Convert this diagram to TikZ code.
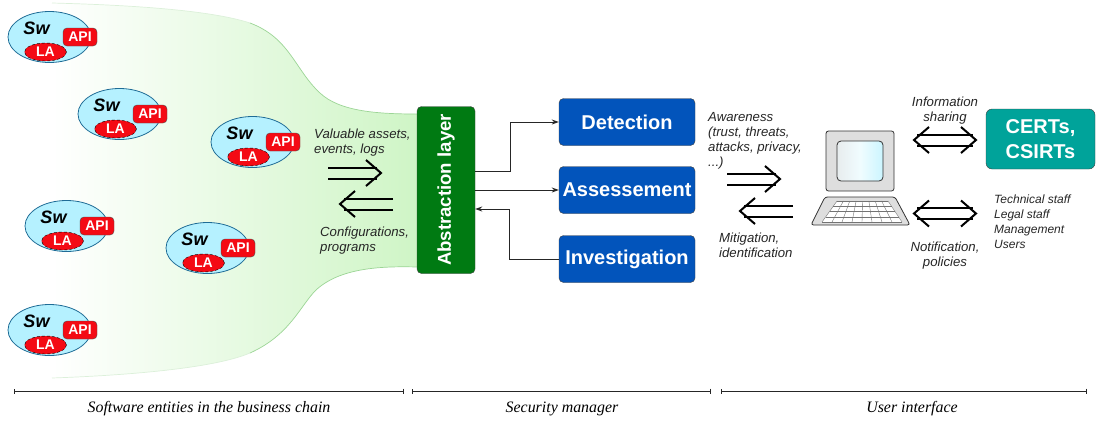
\documentclass[tikz,border=0pt]{standalone}
\usepackage{fontspec}
\setmainfont{Liberation Sans}
\newfontfamily\capfont{Liberation Serif}
\usetikzlibrary{arrows.meta,shapes.geometric,calc}

\definecolor{bodyblue}{HTML}{B5F1FF}
\definecolor{edgeblue}{HTML}{1F6C96}
\definecolor{tagred}{HTML}{F40A14}
\definecolor{boxblue}{HTML}{0254BB}
\definecolor{boxgreen}{HTML}{007A12}
\definecolor{boxteal}{HTML}{00A39A}
\definecolor{bandgreen}{HTML}{CFF5C6}
\definecolor{bandedge}{HTML}{9CD596}

\newcommand{\px}[1]{\fontsize{#1}{#1}\selectfont}

\tikzset{
  swbody/.style={ellipse,draw=edgeblue,fill=bodyblue,line width=.8pt,minimum width=83pt,minimum height=51pt,inner sep=0pt},
  swname/.style={font=\px{18}\bfseries\itshape,inner sep=0pt},
  apitag/.style={rectangle,rounded corners=4pt,draw=black!70,fill=tagred,text=white,font=\px{14}\bfseries,minimum width=34pt,minimum height=18pt,inner sep=0pt},
  latag/.style={ellipse,draw=black,densely dashed,fill=tagred,text=white,font=\px{14}\bfseries,minimum width=42pt,minimum height=18pt,inner sep=0pt},
  mainbox/.style={rectangle,rounded corners=4.5pt,draw=black!75,fill=boxblue,text=white,font=\px{20}\bfseries,minimum width=136pt,minimum height=47pt,inner sep=0pt},
  note/.style={font=\fontsize{13.2}{15}\selectfont\itshape,align=left,inner sep=0pt,text=black!85,anchor=north west},
  link/.style={draw=black!85,line width=.9pt,-{Stealth[length=7pt,width=5pt]}},
  heavy/.style={line width=2pt,black},
  spanline/.style={draw=black!85,line width=.7pt,{|[width=5pt]}-{|[width=5pt]}},
  captext/.style={font=\px{15.9}\capfont\itshape,inner sep=0pt},
  swentity/.pic={
    \node[swbody] (body) at (0,0) {};
    \node[swname] (name) at (-13,-9) {Sw};
    \node[apitag] (api) at (30.5,0) {API};
    \node[latag] (la) at (-4,15) {LA};
  },
  headright/.pic={\draw[heavy] (-15,-13) -- (0,0) -- (-15,13);},
  headleft/.pic={\draw[heavy] (15,-13) -- (0,0) -- (15,13);},
  goright/.pic={
    \draw[heavy] (-53,-5.5) -- (-4,-5.5);
    \draw[heavy] (-53,5.5) -- (-4,5.5);
    \pic at (0,0) {headright};
  },
  goleft/.pic={
    \draw[heavy] (53,-5.5) -- (4,-5.5);
    \draw[heavy] (53,5.5) -- (4,5.5);
    \pic at (0,0) {headleft};
  },
  gotwo/.pic={
    \draw[heavy] (3,-5.5) -- (59,-5.5);
    \draw[heavy] (3,5.5) -- (59,5.5);
    \pic at (0,0) {headleft};
    \pic at (62,0) {headright};
  },
}

\begin{document}
\begin{tikzpicture}[x=1pt,y=-1pt]
    \useasboundingbox (0,0) rectangle (1098,421);

    % green band behind the entities
    \shade[left color=white,middle color=bandgreen!40,right color=bandgreen] (52,3) .. controls (130,5) and (210,10) .. (250,23) .. controls (290,38) and (295,70) .. (320,93) .. controls (340,112) and (380,114) .. (417,114) -- (417,267) .. controls (380,266) and (340,268) .. (316,290) .. controls (300,306) and (290,335) .. (250,353) .. controls (210,370) and (110,376) .. (52,378) -- cycle;
    \draw[bandedge!35,line width=.7pt] (52,3) .. controls (130,5) and (210,10) .. (250,23);
    \draw[bandedge,line width=.7pt] (250,23) .. controls (290,38) and (295,70) .. (320,93) .. controls (340,112) and (380,114) .. (417,114);
    \draw[bandedge,line width=.7pt] (417,267) .. controls (380,266) and (340,268) .. (316,290) .. controls (300,306) and (290,335) .. (250,353);
    \draw[bandedge!35,line width=.7pt] (250,353) .. controls (210,370) and (110,376) .. (52,378);

    \foreach \n/\xc/\yc in {a/49.5/37,b/119.5/114,c/252.5/142,d/66.5/226,e/207.5/248,f/49.5/330}
      \pic (sw\n-) at (\xc,\yc) {swentity};

    \node[rectangle,rounded corners=4.5pt,draw=black!75,fill=boxgreen,text=white,font=\px{18.6}\bfseries,minimum width=58pt,minimum height=167pt,inner sep=0pt] (abstr) at (446,190) {\rotatebox{90}{Abstraction layer}};

    \node[mainbox] (det) at (627,122) {Detection};
    \node[mainbox] (assess) at (627,190) {Assessement};
    \node[mainbox] (inv) at (627,259) {Investigation};

    \draw[link] ([yshift=19pt]abstr.east) -- ++(35,0) |- (det.west);
    \draw[link] (abstr.east) -- (assess.west);
    \draw[link] (inv.west) -- ++(-49,0) |- ([yshift=-19pt]abstr.east);

    \node[note] (assets) at (314,129) {Valuable assets,\\events, logs};
    \node[note] (config) at (320,227) {Configurations,\\programs};
    \pic at (381,173) {goright};
    \pic at (340,204) {goleft};

    \node[note] (aware) at (708,112) {Awareness\\(trust, threats,\\attacks, privacy,\\...)};
    \node[note] (mitig) at (719,233) {Mitigation,\\identification};
    \pic at (780,179) {goright};
    \pic at (740,211) {goleft};

    % computer
    \draw[black!80,fill=black!13,line width=.8pt,rounded corners=2.5pt] (826,131) rectangle (894,191);
    \shade[draw=black!80,line width=.8pt,rounded corners=4pt,left color=bodyblue!55!black!15,right color=bodyblue!70,middle color=white!80!bodyblue] (837,141) rectangle (883,181);
    \draw[black!80,fill=black!13,line width=.8pt,rounded corners=2.5pt,line join=round] (825,197) -- (895,197) -- (910,225) -- (811,225) -- cycle;
    \fill[white] (837,201) -- (888,201) -- (902,222) -- (822,222) -- cycle;
    \foreach \t in {0,.25,.5,.75,1}
      \draw[black!55,line width=.4pt] ($(837,201)!\t!(822,222)$) -- ($(888,201)!\t!(902,222)$);
    \foreach \t in {0,.125,.25,.375,.5,.625,.75,.875,1}
      \draw[black!55,line width=.4pt] ($(837,201)!\t!(888,201)$) -- ($(822,222)!\t!(902,222)$);

    \node[rectangle,rounded corners=6pt,draw=black!75,fill=boxteal,text=white,font=\fontsize{20}{25}\selectfont\bfseries,align=center,minimum width=109pt,minimum height=60pt,inner sep=0pt] (certs) at (1040.5,139) {CERTs,\\CSIRTs};

    \node[note,anchor=center,align=center] (share) at (945,110.5) {Information\\sharing};
    \node[note,anchor=center,align=center] (notif) at (945,256) {Notification,\\policies};
    \pic at (914,140) {gotwo};
    \pic at (914,213.5) {gotwo};
    \node[note,font=\fontsize{12}{15}\selectfont\itshape] (staff) at (994,195) {Technical staff\\Legal staff\\Management\\Users};

    % bottom brackets
    \coordinate (s1) at (14,391);
    \coordinate (s2) at (404,391);
    \coordinate (s3) at (412,391);
    \coordinate (s4) at (711,391);
    \coordinate (s5) at (721,391);
    \coordinate (s6) at (1087,391);
    \draw[spanline] (s1) -- (s2);
    \draw[spanline] (s3) -- (s4);
    \draw[spanline] (s5) -- (s6);
    \node[captext] (capa) at (209,409) {Software entities in the business chain};
    \node[captext] (capb) at (562,409) {Security manager};
    \node[captext] (capc) at (912,409) {User interface};
\end{tikzpicture}
\end{document}
